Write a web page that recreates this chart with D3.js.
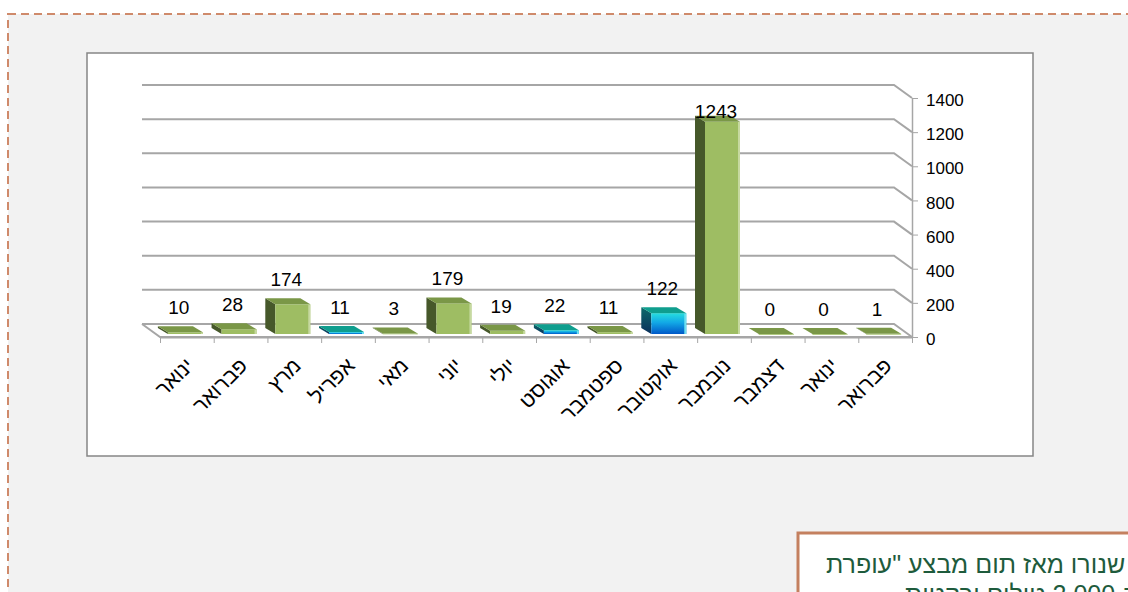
<!DOCTYPE html>
<html><head><meta charset="utf-8">
<script src="https://cdnjs.cloudflare.com/ajax/libs/d3/7.8.5/d3.min.js"></script>
<style>body{margin:0;background:#fff;overflow:hidden} svg{display:block}</style>
</head><body>
<svg id="c" width="1128" height="592"></svg>
<script>
// ---- data ----
const months = ["ינואר","פברואר","מרץ","אפריל","מאי","יוני","יולי","אוגוסט","ספטמבר","אוקטובר","נובמבר","דצמבר","ינואר","פברואר"];
const values = [10,28,174,11,3,179,19,22,11,122,1243,0,0,1];
const barKind = ["green","green","green","blue","green","green","green","blue","green","blue","green","green","green","green"];
const yTicks = [0,200,400,600,800,1000,1200,1400];
const noteLines = ['שנורו מאז תום מבצע "עופרת', 'יצוקה" כ-2,000 טילים ורקטות'];

// ---- layout ----
const svg = d3.select("#c");
const FONT = "'Liberation Sans', Arial, sans-serif";
const defs = svg.append("defs");

// outer dashed frame
svg.append("rect").attr("x",8).attr("y",14).attr("width",1300).attr("height",800)
  .attr("fill","#f2f2f2").attr("stroke","#cf8a6b").attr("stroke-width",2).attr("stroke-dasharray","8,5");

// chart box
svg.append("rect").attr("x",87).attr("y",53).attr("width",946).attr("height",403)
  .attr("fill","#fff").attr("stroke","#868686").attr("stroke-width",1.5);

const x0 = 160, x1 = 912;
const depth = {dx:-18, dy:-13};
const x = d3.scaleBand().domain(d3.range(months.length)).range([x0, x1]);
const xb = d3.scaleLinear().domain([0, months.length]).range([x0, x1]);
const y = d3.scaleLinear().domain([0, 1400]).range([337, 98]);

// back-wall gridlines with side wall bend
const g = svg.append("g");
g.selectAll("path.grid").data(yTicks).join("path").attr("class","grid")
  .attr("d", t => `M${x0+depth.dx},${y(t)+depth.dy}H${x1+depth.dx}L${x1},${y(t)}`)
  .attr("fill","none").attr("stroke","#a6a6a6").attr("stroke-width",2);

// floor
g.append("path")
  .attr("d", `M${x0+depth.dx},${y(0)+depth.dy}L${x0},${y(0)}H${x1}`)
  .attr("fill","none").attr("stroke","#a6a6a6").attr("stroke-width",2);

// category axis (ticks at boundaries)
const xAxis = svg.append("g").attr("transform",`translate(0,${y(0)})`)
  .call(d3.axisBottom(xb).tickValues(d3.range(months.length+1)).tickFormat("").tickSize(6).tickSizeOuter(0));
xAxis.select(".domain").attr("stroke","#a6a6a6").attr("stroke-width",2);
xAxis.selectAll(".tick line").attr("stroke","#a6a6a6");

// right value axis
const yAxis = svg.append("g").attr("transform",`translate(${x1},0)`)
  .call(d3.axisRight(y).tickValues(yTicks).tickFormat(d3.format("d")).tickSize(6).tickSizeOuter(0).tickPadding(8));
yAxis.select(".domain").attr("stroke","#a6a6a6").attr("stroke-width",1.5);
yAxis.selectAll(".tick line").attr("stroke","#a6a6a6");
yAxis.selectAll(".tick text").attr("font-family",FONT).attr("font-size",17).attr("fill","#000").attr("dy","0.45em");

// gradients for blue bars
const gf = defs.append("linearGradient").attr("id","blueFront").attr("x1",0).attr("y1",0).attr("x2",0).attr("y2",1);
gf.append("stop").attr("offset","0%").attr("stop-color","#26dede");
gf.append("stop").attr("offset","45%").attr("stop-color","#12a8e6");
gf.append("stop").attr("offset","100%").attr("stop-color","#0058c8");
const gs = defs.append("linearGradient").attr("id","blueSide").attr("x1",0).attr("y1",0).attr("x2",0).attr("y2",1);
gs.append("stop").attr("offset","0%").attr("stop-color","#0d6a6a");
gs.append("stop").attr("offset","100%").attr("stop-color","#0a2f5c");

const colors = {
  green: {front:"#9ebd63", top:"#7a9747", side:"#46582a", hi:"#c6d9a0"},
  blue:  {front:"url(#blueFront)", top:"#0f9e8e", side:"url(#blueSide)", hi:"#6fe0f0"}
};

// bars
const bd = {dx:-10, dy:-6};
const bars = svg.append("g").selectAll("g").data(values).join("g");
bars.each(function(v,i){
  const c = colors[barKind[i]];
  const cx = x(i) + x.bandwidth()/2;
  const L = cx - 19, R = cx + 16;
  const bot = y(0) - 3, top = y(v) - 3;
  const s = d3.select(this);
  s.append("path").attr("d",`M${L},${bot}V${top}L${L+bd.dx},${top+bd.dy}V${bot+bd.dy}Z`).attr("fill",c.side);
  s.append("rect").attr("x",L).attr("y",top).attr("width",R-L).attr("height",Math.max(bot-top,0.8)).attr("fill",c.front);
  s.append("rect").attr("x",R-2).attr("y",top).attr("width",2).attr("height",Math.max(bot-top,0.8)).attr("fill",c.hi);
  s.append("path").attr("d",`M${L},${top}H${R}L${R+bd.dx},${top+bd.dy}H${L+bd.dx}Z`).attr("fill",c.top);
});

// value labels (kept inside plot area)
const yMaxPix = y(d3.max(yTicks));
svg.append("g").selectAll("text").data(values).join("text")
  .attr("x",(v,i)=>x(i)+x.bandwidth()/2-8).attr("y",v=>Math.max(y(v)-21, yMaxPix+20))
  .attr("text-anchor","middle").attr("font-family",FONT).attr("font-size",19).attr("fill","#000")
  .text(v=>v);

// category labels
svg.append("g").selectAll("text").data(months).join("text")
  .attr("transform",(m,i)=>`translate(${x(i)+x.bandwidth()/2+8},367) rotate(-45)`)
  .attr("text-anchor","end").attr("font-family",FONT).attr("font-size",21).attr("fill","#000")
  .text(m=>m);

// note box
svg.append("rect").attr("x",798).attr("y",533).attr("width",420).attr("height",120)
  .attr("fill","#fff").attr("stroke","#c4805f").attr("stroke-width",3);
svg.append("g").selectAll("text").data(noteLines).join("text")
  .attr("x",(d,i)=> i===0 ? 826 : 905).attr("y",(d,i)=>573+i*30)
  .attr("direction","rtl").style("direction","rtl").attr("text-anchor","end")
  .attr("font-family",FONT).attr("font-size",25).attr("fill","#1e5b3c")
  .text(d=>d);
</script>
</body></html>
